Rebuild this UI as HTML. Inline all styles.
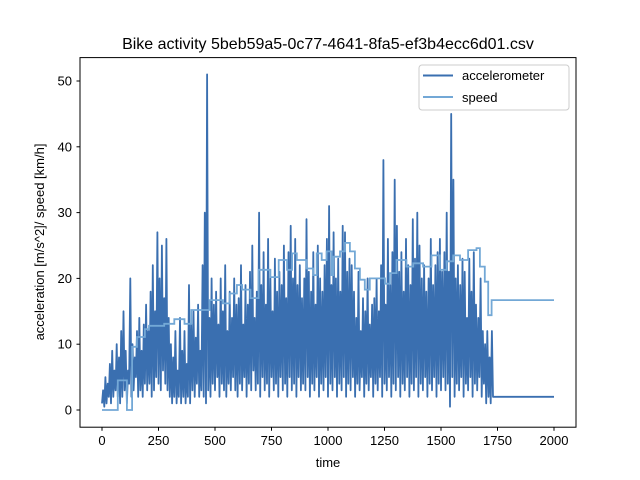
<!DOCTYPE html>
<html><head><meta charset="utf-8"><style>
body{margin:0;background:#fff;}
svg{display:block;font-family:"Liberation Sans","DejaVu Sans",sans-serif;}
</style></head><body>
<svg id="chart" width="640" height="480" viewBox="0 0 640 480">
<rect x="0" y="0" width="640" height="480" fill="#fff"/>
<text x="328" y="49" font-size="16" text-anchor="middle">Bike activity 5beb59a5-0c77-4641-8fa5-ef3b4ecc6d01.csv</text>
<g id="plot"></g>
<rect x="80" y="57.6" width="496" height="369.6" fill="none" stroke="#000" stroke-width="1"/>
<g id="xticks"></g>
<g id="yticks"></g>
<text x="328" y="467" font-size="13" text-anchor="middle">time</text>
<text transform="translate(44,242) rotate(-90)" font-size="13" text-anchor="middle">acceleration [m/s^2]/ speed [km/h]</text>
<g>
<rect x="419" y="65" width="150" height="45" rx="3" fill="#fff" fill-opacity="0.8" stroke="#ccc"/>
<line x1="423" y1="75.5" x2="453" y2="75.5" stroke="#3a6fb0" stroke-width="2"/>
<text x="462" y="80" font-size="13">accelerometer</text>
<line x1="423" y1="97" x2="453" y2="97" stroke="#73a8d6" stroke-width="2"/>
<text x="462" y="102" font-size="13">speed</text>
</g>
</svg>
<script>
const xTicks=[0,250,500,750,1000,1250,1500,1750,2000];
const yTicks=[0,10,20,30,40,50];
const accStep=5;
const accSeries=[
1,3,0.5,5,1,4,2,7,1,9,2,6,3,10,2,8,1,12,2,15,
3,9,1,6,4,20,2,10,3,8,5,12,2,14,3,9,2,13,4,16,
3,12,4,18,2,22,3,15,5,27,4,20,3,25,6,17,4,26,3,14,
2,10,1,8,2,12,1,6,2,14,1,9,2,12,1,7,2,19,1,13,
3,15,2,11,4,16,2,9,3,22,2,30,1,51,3,14,2,20,4,16,
3,18,5,13,2,20,4,15,3,22,2,12,4,18,3,14,5,20,3,16,
2,17,4,22,3,13,5,19,2,16,4,21,3,25,6,14,3,18,4,30,
2,19,5,24,3,16,4,26,2,20,5,15,3,23,4,18,2,21,5,19,
3,25,4,17,2,24,5,28,3,20,4,26,2,19,5,22,3,17,4,20,
3,29,5,21,2,18,4,24,3,16,5,25,2,20,4,18,3,22,5,26,
2,31,4,19,3,27,5,20,2,23,4,18,3,28,5,27,2,21,4,23,
3,22,5,18,2,14,4,21,3,12,5,17,2,15,4,20,3,13,5,16,
2,17,4,20,3,15,5,22,2,38,4,16,3,26,5,19,2,24,4,35,
3,28,5,21,2,24,4,18,3,26,5,22,2,19,4,29,3,23,5,30,
2,25,4,20,3,22,5,18,2,20,4,26,3,19,5,22,2,24,4,26,
3,21,5,24,3,30,4,21,0.5,45,5,35,2,20,4,22,3,19,5,23,
2,21,4,14,3,23,5,18,2,24,4,16,3,14,5,20,2,12,4,10,
1,12,2,8,1,12,2];
const accTailTimes=[1735,2000];
const accTailValues=[2,2];
const speedTimes=[0,70,93,110,133,155,190,208,275,320,365,395,476,535,565,597,620,657,693,745,782,819,841,862,905,935,950,972,994,1016,1023,1053,1075,1097,1119,1141,1163,1185,1252,1274,1303,1347,1377,1421,1458,1495,1525,1554,1584,1620,1657,1672,1694,1709,1724,2000];
const speedValues=[0,4.5,4.5,0,9.6,11.1,12.3,12.8,13.1,13.8,13.1,15.2,16.7,16.2,17.7,19,18.3,17,21.3,20.2,22.8,21.3,23.8,22.8,21.5,20.5,23.8,22.8,24.1,20.5,23.3,24.1,25.4,24.1,21.5,19.8,18.3,20,19.2,20.8,22.8,21.8,22.3,21.8,23.5,21.3,22.6,23.5,22.8,24.3,24.6,21.8,19.5,14.4,16.7,16.7];
const X=t=>102+(t)*(452/2000);
const Y=v=>410-v*6.58;
const NS='http://www.w3.org/2000/svg';
const plot=document.getElementById('plot');
let pts=[];
for(let i=0;i<accSeries.length;i++){
  pts.push(X(i*accStep).toFixed(1)+','+Y(accSeries[i]).toFixed(1));
}
for(let i=0;i<accTailTimes.length;i++)pts.push(X(accTailTimes[i]).toFixed(1)+','+Y(accTailValues[i]).toFixed(1));
const acc=document.createElementNS(NS,'polyline');
acc.setAttribute('points',pts.join(' '));
acc.setAttribute('fill','none');acc.setAttribute('stroke','#3a6fb0');acc.setAttribute('stroke-width','1.8');acc.setAttribute('stroke-linejoin','round');


plot.appendChild(acc);
let sp=[];
for(let i=0;i<speedTimes.length;i++){
  if(i>0)sp.push(X(speedTimes[i]).toFixed(1)+','+Y(speedValues[i-1]).toFixed(1));
  sp.push(X(speedTimes[i]).toFixed(1)+','+Y(speedValues[i]).toFixed(1));
}
const spd=document.createElementNS(NS,'polyline');
spd.setAttribute('points',sp.join(' '));
spd.setAttribute('fill','none');spd.setAttribute('stroke','#73a8d6');spd.setAttribute('stroke-width','1.8');


plot.appendChild(spd);
const xg=document.getElementById('xticks');
xTicks.forEach(t=>{
  const l=document.createElementNS(NS,'line');
  l.setAttribute('x1',X(t));l.setAttribute('x2',X(t));l.setAttribute('y1',427.2);l.setAttribute('y2',430.7);l.setAttribute('stroke','#000');
  
  
  xg.appendChild(l);
  const tx=document.createElementNS(NS,'text');
  tx.setAttribute('x',X(t));tx.setAttribute('y',445);tx.setAttribute('font-size','13');tx.setAttribute('text-anchor','middle');
  tx.textContent=t;
  
  
  xg.appendChild(tx);
});
const yg=document.getElementById('yticks');
yTicks.forEach(v=>{
  const l=document.createElementNS(NS,'line');
  l.setAttribute('x1',76.5);l.setAttribute('x2',80);l.setAttribute('y1',Y(v));l.setAttribute('y2',Y(v));l.setAttribute('stroke','#000');
  
  
  yg.appendChild(l);
  const tx=document.createElementNS(NS,'text');
  tx.setAttribute('x',72);tx.setAttribute('y',Y(v)+4.5);tx.setAttribute('font-size','13');tx.setAttribute('text-anchor','end');
  tx.textContent=v;
  
  
  yg.appendChild(tx);
});
</script>
</body></html>
